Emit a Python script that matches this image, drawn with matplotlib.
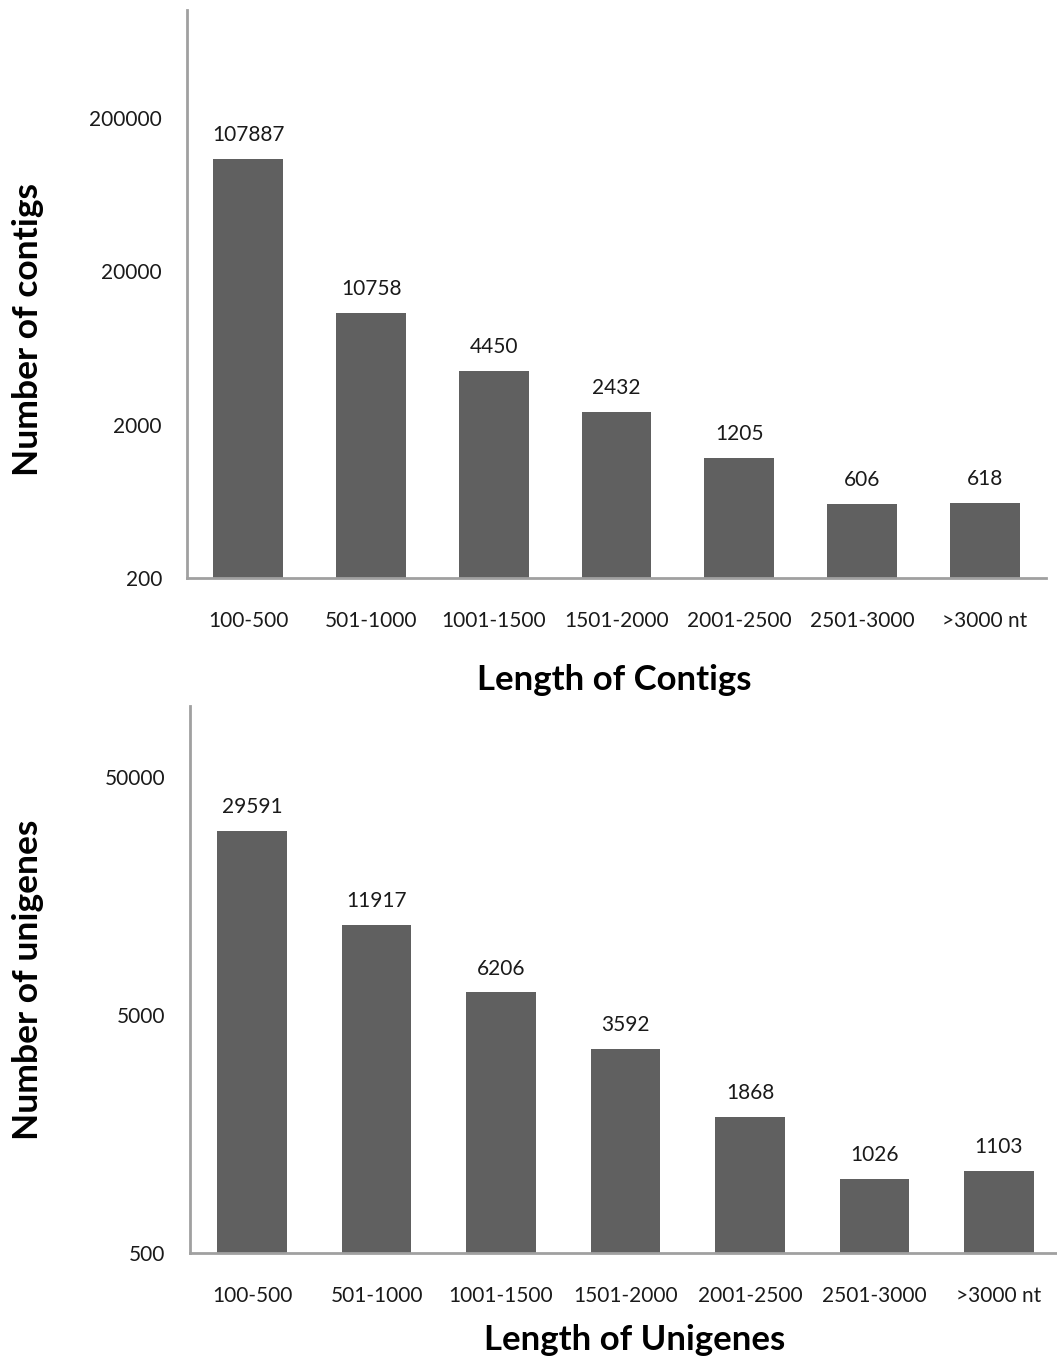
import numpy as np
import matplotlib
matplotlib.use("Agg")
from matplotlib import pyplot as plt
from matplotlib.ticker import FixedLocator, NullLocator

plt.rcParams['font.family'] = ['Lato', 'DejaVu Sans']

cats_top = ["100-500", "501-1000", "1001-1500", "1501-2000", "2001-2500", "2501-3000", ">3000 nt"]
contigs = [107887, 10758, 4450, 2432, 1205, 606, 618]
yticks_top = [200, 2000, 20000, 200000]

cats_bot = ["100-500", "501-1000", "1001-1500", "1501-2000", "2001-2500", "2501-3000", ">3000 nt"]
unigenes = [29591, 11917, 6206, 3592, 1868, 1026, 1103]
yticks_bot = [500, 5000, 50000]

W, H = 1057, 1361
fig = plt.figure(figsize=(W/100, H/100), dpi=100)

bar_col = "#606060"
spine_col = "#a0a0a0"
txt_col = "#1a1a1a"

def box(l, r, t, b):
    return [l/W, 1-b/H, (r-l)/W, (b-t)/H]

def draw(ax, cats, vals, ticks, ylim, xlab, ylab, width, xl_pos, yl_pos):
    x = np.arange(len(cats))
    ax.bar(x, vals, width=width, color=bar_col, log=True, zorder=2)
    ax.set_yscale("log")
    ax.set_ylim(*ylim)
    ax.set_xlim(-0.5, len(cats)-0.5)
    ax.yaxis.set_major_locator(FixedLocator(ticks))
    ax.yaxis.set_minor_locator(NullLocator())
    ax.set_yticklabels([str(t) for t in ticks], fontsize=15, color=txt_col)
    ax.set_xticks(x)
    ax.set_xticklabels(cats, fontsize=15, color=txt_col)
    ax.tick_params(axis="both", length=0)
    ax.tick_params(axis="y", pad=18)
    ax.tick_params(axis="x", pad=24)
    for s in ["top", "right"]:
        ax.spines[s].set_visible(False)
    for s in ["left", "bottom"]:
        ax.spines[s].set_color(spine_col)
        ax.spines[s].set_linewidth(2)
    for xi, v in zip(x, vals):
        ax.annotate(str(v), (xi, v), xytext=(0, 10), textcoords="offset points",
                    ha="center", va="bottom", fontsize=15, color=txt_col)
    ax.set_xlabel(xlab, fontsize=25, fontweight="bold", color="black")
    ax.set_ylabel(ylab, fontsize=25.5, fontweight="bold", color="black")
    ax.xaxis.set_label_coords(*xl_pos)
    ax.xaxis.label.set_va("center")
    ax.yaxis.set_label_coords(*yl_pos)
    ax.yaxis.label.set_va("center")

ax1 = fig.add_axes(box(187, 1046, 10, 578))
draw(ax1, cats_top, contigs, yticks_top, (200, 1.01e6), "Length of Contigs", "Number of contigs",
     0.57, (0.497, -0.18), (-0.185, 0.437))

ax2 = fig.add_axes(box(190, 1061, 706, 1253))
draw(ax2, cats_bot, unigenes, yticks_bot, (500, 9.9e4), "Length of Unigenes", "Number of unigenes",
     0.56, (0.51, -0.159), (-0.186, 0.499))

fig.savefig("out.png", dpi=100)
